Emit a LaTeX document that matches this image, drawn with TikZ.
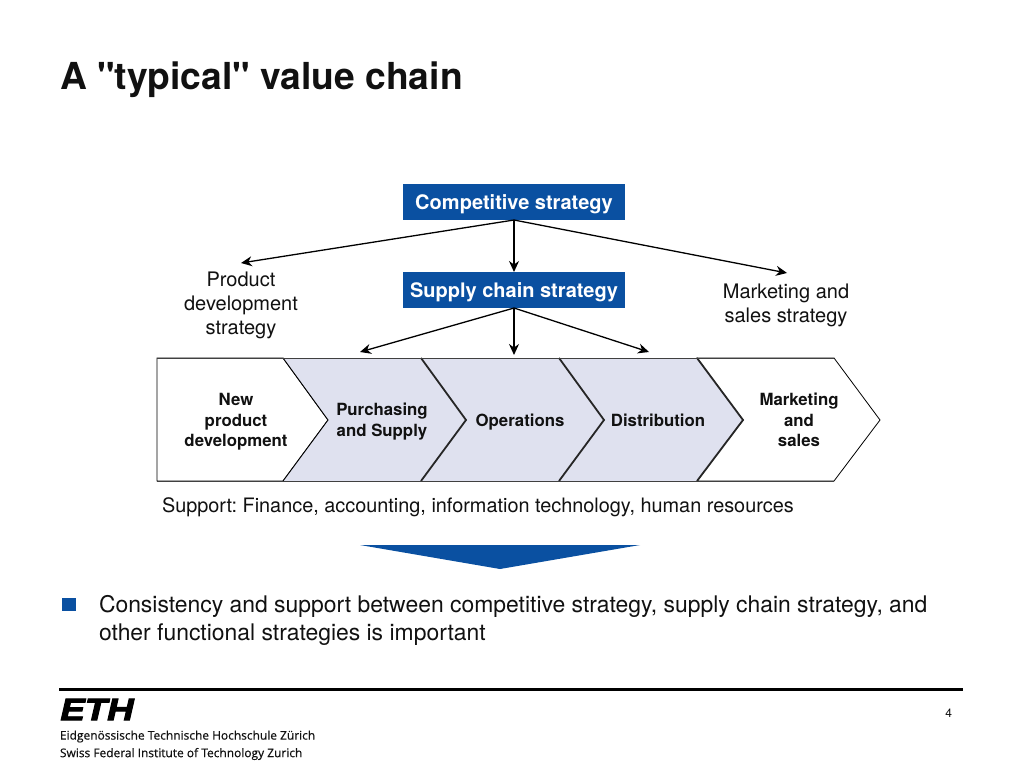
\documentclass[tikz,border=0pt]{standalone}
\usepackage{fontspec}
\setmainfont{TeX Gyre Heros}[Ligatures=TeXOff]
\newfontfamily\logofont{Open Sans}[FakeBold=0.4]
\newfontfamily\ethfont{Liberation Sans}[BoldItalicFeatures={FakeBold=3}]
\usetikzlibrary{arrows.meta}
\definecolor{ethblue}{HTML}{0A50A1}
\definecolor{chevfill}{HTML}{DFE1EF}
\definecolor{txt}{HTML}{111111}
\tikzset{
  every node/.style={inner sep=0pt,outer sep=0pt,text=txt},
  bluebox/.style={fill=ethblue,minimum width=222pt,minimum height=36pt},
  bluetext/.style={text=white,font=\fontsize{20}{24}\selectfont\bfseries},
  plain/.style={align=center,font=\fontsize{20}{24}\selectfont},
  chevlabel/.style={align=center,font=\fontsize{16.8}{20.5}\selectfont\bfseries},
  conn/.style={draw=black,line width=1.3pt,-{Stealth[length=11pt,width=10pt]}},
  chevwhite/.style={draw=black,line width=0.8pt,fill=white,line join=miter},
  chevthin/.style={draw=black,line width=0.9pt,line join=miter},
  chevgray/.style={draw=black!85,line width=1.8pt,line join=miter},
  edge/.style={draw=black!75,line width=0.9pt},
}
\begin{document}
\begin{tikzpicture}[x=1pt,y=-1pt]
\frenchspacing
\useasboundingbox (0,0) rectangle (1024,768);
\fill[white] (0,0) rectangle (1024,768);
% title
\node[anchor=west,font=\fontsize{37.2}{40}\selectfont\bfseries] (title) at (60,80) {A "typical" value chain};
% chevrons
\draw[chevwhite] (157,358) -- (283,358) -- (328,420) -- (283,481) -- (157,481) -- cycle;
\draw[chevwhite] (697,358) -- (834,358) -- (880,420) -- (834,481) -- (697,481) -- (743,420) -- cycle;
\fill[chevfill] (283,358) -- (421,358) -- (466,420) -- (421,481) -- (283,481) -- (328,420) -- cycle;
\fill[chevfill] (421,358) -- (559,358) -- (604,420) -- (559,481) -- (421,481) -- (466,420) -- cycle;
\fill[chevfill] (559,358) -- (697,358) -- (743,420) -- (697,481) -- (559,481) -- (604,420) -- cycle;
\draw[chevthin] (283,358) -- (328,420) -- (283,481);
\draw[chevgray] (421,358) -- (466,420) -- (421,481);
\draw[chevgray] (559,358) -- (604,420) -- (559,481);
\draw[chevgray] (697,358) -- (743,420) -- (697,481);
\draw[edge] (157,358) -- (834,358);
\draw[edge] (157,481) -- (834,481);
% chevron labels
\node[chevlabel] (newprod) at (236,422) {New\\product\\development};
\node[chevlabel] (purch) at (382,421.5) {Purchasing\\and Supply};
\node[chevlabel] (oper) at (520,422.5) {Operations};
\node[chevlabel] (distr) at (658,420.5) {Distribution};
\node[chevlabel] (mark) at (799,420) {Marketing\\and\\sales};
% strategy boxes
\node[bluebox] (comp) at (514,202) {};
\node[bluebox] (supply) at (514,290) {};
\node[bluetext] (comptext) at (514,204) {Competitive strategy};
\node[bluetext] (supplytext) at (514,292) {Supply chain strategy};
\node[plain] (prodstrat) at (241,305.5) {Product\\development\\strategy};
\node[plain] (markstrat) at (786,305.5) {Marketing and\\sales strategy};
\coordinate (a1) at (241,263);
\coordinate (a2) at (787,273);
\coordinate (b1) at (360,352);
\coordinate (b2) at (514,355);
\coordinate (b3) at (649,352);
\draw[conn] (comp.south) -- (a1);
\draw[conn] (comp.south) -- (supply.north);
\draw[conn] (comp.south) -- (a2);
\draw[conn] (supply.south) -- (b1);
\draw[conn] (supply.south) -- (b2);
\draw[conn] (supply.south) -- (b3);
% support
\node[anchor=west,font=\fontsize{19.87}{24}\selectfont] (support) at (162,507.5) {Support: Finance, accounting, information technology, human resources};
% big arrow
\fill[ethblue] (360,545) -- (640,545) -- (500,569) -- cycle;
% bullet
\fill[ethblue] (62,598) rectangle (75.5,610.5);
\node[anchor=north west,align=left,font=\fontsize{22.9}{28}\selectfont] (bullet) at (99,595) {Consistency and support between competitive strategy, supply chain strategy, and\\other functional strategies is important};
% footer
\draw[black,line width=2.4pt] (59,689.5) -- (963,689.5);
\node[anchor=east,font=\fontsize{12}{14}\selectfont] (page) at (952,713) {4};
\node[anchor=west,font=\ethfont\fontsize{31}{31}\selectfont\bfseries\itshape,xscale=1.18,text=black] (eth) at (60.5,709.5) {ETH};
\node[anchor=west,font=\logofont\fontsize{11.95}{15}\selectfont] (eth1) at (60,736.5) {Eidgenössische Technische Hochschule Zürich};
\node[anchor=west,font=\logofont\fontsize{11.95}{15}\selectfont] (eth2) at (60,754) {Swiss Federal Institute of Technology Zurich};
\end{tikzpicture}
\end{document}
